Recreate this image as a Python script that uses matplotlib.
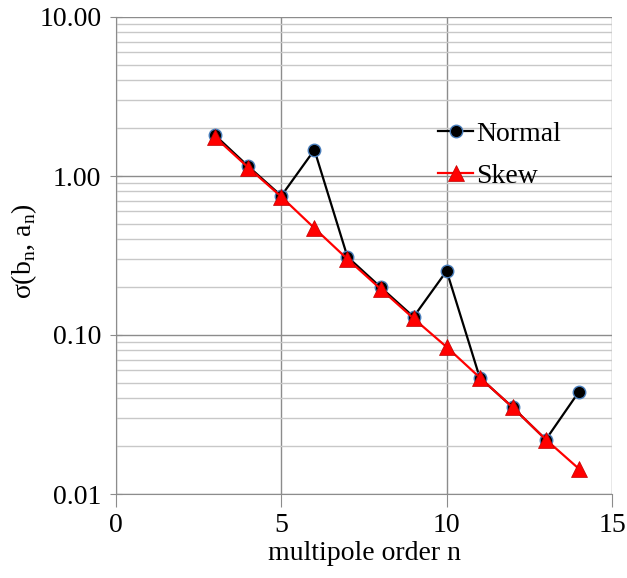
import matplotlib.pyplot as plt
from matplotlib.ticker import FixedLocator, LogLocator, NullFormatter

plt.rcParams['font.family'] = ['Liberation Serif', 'DejaVu Serif']

n = [3, 4, 5, 6, 7, 8, 9, 10, 11, 12, 13, 14]
normal = [1.80, 1.15, 0.75, 1.46, 0.31, 0.20, 0.13, 0.253, 0.054, 0.035, 0.022, 0.044]
skew = [1.75, 1.13, 0.74, 0.47, 0.30, 0.195, 0.127, 0.084, 0.054, 0.035, 0.022, 0.0144]

fig = plt.figure(figsize=(6.27, 5.78), dpi=100)
ax = fig.add_axes([116/627, 84/578, 496/627, 477/578])

ax.plot(n, normal, color='black', lw=1.6, marker='o', ms=9,
        mfc='black', mec='#4a7ebb', mew=1, label='Normal', zorder=3)
ax.plot(n, skew, color='red', lw=1.6, marker='^', ms=11,
        mfc='red', mec='#c00000', mew=0.5, label='Skew', zorder=4)

ax.set_yscale('log')
ax.set_xlim(0, 15)
ax.set_ylim(0.01, 10)
ax.xaxis.set_major_locator(FixedLocator([0, 5, 10, 15]))
ax.yaxis.set_major_locator(FixedLocator([0.01, 0.1, 1, 10]))
ax.yaxis.set_minor_locator(LogLocator(subs=range(2, 10)))
ax.yaxis.set_minor_formatter(NullFormatter())
ax.set_yticklabels(['0.01', '0.10', '1.00', '10.00'])

ax.grid(True, which='major', color='#8c8c8c', lw=1)
ax.grid(True, which='minor', axis='y', color='#c8c8c8', lw=1)
ax.set_axisbelow(True)
for s in ['top', 'right']:
    ax.spines[s].set_visible(False)
for s in ['left', 'bottom']:
    ax.spines[s].set_color('#8c8c8c')
ax.tick_params(axis='both', which='major', labelsize=20, color='#8c8c8c')
ax.tick_params(axis='y', which='major', direction='inout', length=9, pad=6)
ax.tick_params(axis='x', which='major', direction='out', length=9, pad=5)
ax.tick_params(axis='y', which='minor', length=0)

ax.set_xlabel('multipole order n', fontsize=20, labelpad=2)
ax.set_ylabel(r'σ(b$_\mathregular{n}$, a$_\mathregular{n}$)', fontsize=20)
ax.yaxis.set_label_coords(-0.155, 0.51)

ax.legend(loc='upper left', bbox_to_anchor=(0.622, 0.81), frameon=False,
          fontsize=20, handlelength=1.25, handletextpad=0.1, labelspacing=0.6,
          borderpad=0)

fig.savefig('out.png', dpi=100)
